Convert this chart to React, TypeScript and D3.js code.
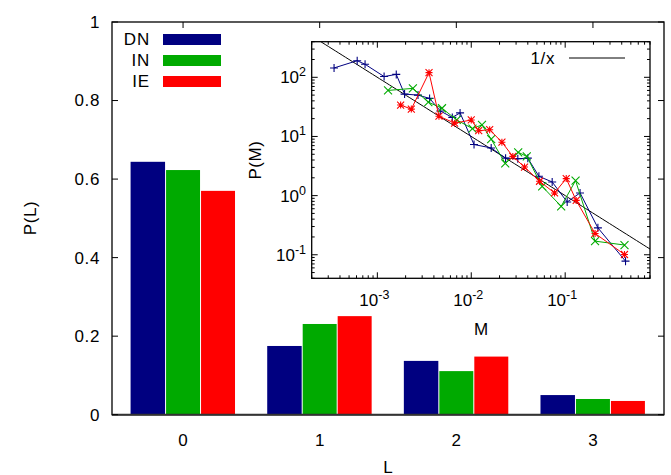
import React from "react";
import * as d3 from "d3";

const categories = [0, 1, 2, 3];
const seriesNames = ["DN", "IN", "IE"];
const seriesColors = ["#000080", "#00aa00", "#ff0000"];
const dnBars = [0.644, 0.175, 0.137, 0.05];
const inBars = [0.623, 0.231, 0.111, 0.04];
const ieBars = [0.57, 0.251, 0.148, 0.035];
const yTicks = [0, 0.2, 0.4, 0.6, 0.8, 1];
const yTickLabels = ["0", "0.2", "0.4", "0.6", "0.8", "1"];

const dnM = [3.46e-4, 6.1e-4, 7.4e-4, 1.18e-3, 1.59e-3, 1.95e-3, 2.71e-3, 3.6e-3, 4.68e-3, 6.28e-3, 7.6e-3, 0.0107, 0.0163, 0.0232, 0.0313, 0.04, 0.0525, 0.0727, 0.105, 0.144, 0.223, 0.439];
const dnP = [144, 191, 166, 103, 112, 52, 50, 44, 27, 21, 25, 7.3, 6.4, 4.3, 4.2, 4.3, 2.12, 1.7, 0.78, 1.11, 0.285, 0.078];
const inM = [1.3e-3, 2.39e-3, 3.49e-3, 4.88e-3, 7.0e-3, 0.0103, 0.013, 0.0163, 0.023, 0.0316, 0.039, 0.0569, 0.0906, 0.129, 0.208, 0.428];
const inP = [60, 65, 38, 30, 19, 13.6, 15.7, 9.0, 3.5, 5.4, 4.6, 1.43, 0.66, 1.79, 0.17, 0.146];
const ieM = [1.77e-3, 2.3e-3, 3.55e-3, 4.53e-3, 6.65e-3, 0.01, 0.012, 0.0157, 0.0212, 0.0277, 0.0369, 0.0533, 0.077, 0.1026, 0.131, 0.208, 0.428];
const ieP = [34, 29, 120, 22, 16.8, 19, 12.5, 13, 8.0, 4.6, 3.04, 1.75, 1.11, 1.94, 0.83, 0.229, 0.101];
const fitC = 0.1;
const insetXMajor = [-3, -2, -1];
const insetYMajor = [-1, 0, 1, 2];

const FONT = "'Liberation Sans', Arial, Helvetica, sans-serif";

export default function App() {
  const W = 671, H = 475;
  const x = d3.scaleLinear().domain([-0.52, 3.52]).range([112, 664]);
  const y = d3.scaleLinear().domain([0, 1]).range([414.7, 22]);
  const bw = 0.256;
  const barSeries = [dnBars, inBars, ieBars];

  const ix = d3.scaleLog().domain([2e-4, 0.8]).range([311.7, 650]);
  const iy = d3.scaleLog().domain([0.04, 400]).range([278.3, 41.7]);
  const [ix0, ix1] = ix.range();
  const [iy0, iy1] = iy.range();

  const line = d3.line<[number, number]>().x(d => ix(d[0])).y(d => iy(d[1]));
  const pts = (m: number[], p: number[]) => m.map((v, i) => [v, p[i]] as [number, number]);
  const insetSeries = [pts(dnM, dnP), pts(inM, inP), pts(ieM, ieP)];

  const xMinor: number[] = [];
  for (let k = -4; k <= 0; k++) for (let m = 1; m <= 9; m++) {
    const v = m * Math.pow(10, k);
    if (v >= 2e-4 && v <= 0.8) xMinor.push(v);
  }
  const yMinor: number[] = [];
  for (let k = -2; k <= 2; k++) for (let m = 1; m <= 9; m++) {
    const v = m * Math.pow(10, k);
    if (v >= 0.04 && v <= 400) yMinor.push(v);
  }

  const marker = (kind: number, cx: number, cy: number, color: string, key: string) => {
    const s = 4;
    const plus = `M${cx - s},${cy}H${cx + s}M${cx},${cy - s}V${cy + s}`;
    const cross = `M${cx - s},${cy - s}L${cx + s},${cy + s}M${cx - s},${cy + s}L${cx + s},${cy - s}`;
    const s2 = 3.5;
    const star = `M${cx - s2},${cy}H${cx + s2}M${cx},${cy - s2}V${cy + s2}M${cx - s2},${cy - s2}L${cx + s2},${cy + s2}M${cx - s2},${cy + s2}L${cx + s2},${cy - s2}`;
    const d = kind === 0 ? plus : kind === 1 ? cross : star;
    return <path key={key} d={d} stroke={color} strokeWidth={1.1} fill="none" />;
  };

  const fitX = d3.range(0, 101).map(i => Math.pow(10, Math.log10(2e-4) + (i / 100) * (Math.log10(0.8) - Math.log10(2e-4))));

  return (
    <svg width={W} height={H} style={{ position: "absolute", left: 0, top: 0, background: "#fff" }} fontFamily={FONT}>
      <rect x={0} y={0} width={W} height={H} fill="#fff" />
      {/* bars */}
      {barSeries.map((vals, si) =>
        categories.map((c, ci) => {
          const left = x(c + (si - 1.5) * bw);
          const right = x(c + (si - 0.5) * bw);
          return (
            <rect key={`b${si}-${ci}`} x={left + (si > 0 ? 0.5 : 0)} y={y(vals[ci])}
              width={right - left - (si > 0 ? 0.5 : 0) - 0.5} height={y(0) - y(vals[ci])} fill={seriesColors[si]} />
          );
        })
      )}
      {/* main frame */}
      <rect x={x.range()[0]} y={y(1)} width={x.range()[1] - x.range()[0]} height={y(0) - y(1)} fill="none" stroke="#000" strokeWidth={1.3} />
      <line x1={x.range()[0]} x2={x.range()[1]} y1={y(0)} y2={y(0)} stroke="#333" strokeWidth={2} />
      {yTicks.map((t, i) => (
        <g key={`yt${i}`}>
          <line x1={x.range()[0]} x2={x.range()[0] + 6} y1={y(t)} y2={y(t)} stroke="#000" />
          <line x1={x.range()[1]} x2={x.range()[1] - 6} y1={y(t)} y2={y(t)} stroke="#000" />
          <text x={100} y={y(t)} dy="0.35em" textAnchor="end" fontSize={17} letterSpacing={0.6}>{yTickLabels[i]}</text>
        </g>
      ))}
      {categories.map((c, i) => (
        <g key={`xt${i}`}>
          <line x1={x(c)} x2={x(c)} y1={y(1)} y2={y(1) + 6} stroke="#000" />
          <text x={x(c)} y={440} dy="0.35em" textAnchor="middle" fontSize={17}>{String(c)}</text>
        </g>
      ))}
      <text x={0} y={0} transform={`translate(30,218) rotate(-90)`} textAnchor="middle" dy="0.35em" fontSize={17} letterSpacing={0.6}>P(L)</text>
      <text x={x(1.5)} y={467} dy="0.35em" textAnchor="middle" fontSize={17}>L</text>
      {/* legend */}
      {seriesNames.map((n, i) => (
        <g key={`lg${i}`}>
          <text x={150} y={39 + i * 21} dy="0.35em" textAnchor="end" fontSize={17} letterSpacing={0.8}>{n}</text>
          <rect x={163} y={34 + i * 21} width={58} height={11} fill={seriesColors[i]} />
        </g>
      ))}

      {/* inset */}
      <defs>
        <clipPath id="insetClip">
          <rect x={ix0} y={iy1} width={ix1 - ix0} height={iy0 - iy1} />
        </clipPath>
      </defs>
      <rect x={ix0} y={iy1} width={ix1 - ix0} height={iy0 - iy1} fill="#fff" />
      <g clipPath="url(#insetClip)">
        <path d={line(fitX.map(v => [v, fitC / v] as [number, number])) || ""} stroke="#000" strokeWidth={1} fill="none" />
        {insetSeries.map((s, si) => (
          <g key={`is${si}`}>
            <path d={line(s) || ""} stroke={seriesColors[si]} strokeWidth={1} fill="none" />
            {s.map((p, pi) => marker(si, ix(p[0]), iy(p[1]), seriesColors[si], `m${si}-${pi}`))}
          </g>
        ))}
      </g>
      <rect x={ix0} y={iy1} width={ix1 - ix0} height={iy0 - iy1} fill="none" stroke="#000" strokeWidth={1.3} />
      {xMinor.map((v, i) => {
        const major = insetXMajor.some(k => Math.abs(Math.log10(v) - k) < 1e-6);
        const len = major ? 6 : 3;
        return (
          <g key={`ixm${i}`}>
            <line x1={ix(v)} x2={ix(v)} y1={iy0} y2={iy0 - len} stroke="#000" />
            <line x1={ix(v)} x2={ix(v)} y1={iy1} y2={iy1 + len} stroke="#000" />
          </g>
        );
      })}
      {yMinor.map((v, i) => {
        const major = insetYMajor.some(k => Math.abs(Math.log10(v) - k) < 1e-6);
        const len = major ? 6 : 3;
        return (
          <g key={`iym${i}`}>
            <line x1={ix0} x2={ix0 + len} y1={iy(v)} y2={iy(v)} stroke="#000" />
            <line x1={ix1} x2={ix1 - len} y1={iy(v)} y2={iy(v)} stroke="#000" />
          </g>
        );
      })}
      {insetXMajor.map(k => (
        <text key={`ixl${k}`} x={ix(Math.pow(10, k)) - 3} y={300} dy="0.35em" textAnchor="middle" fontSize={17}>
          10<tspan dy="-7" fontSize={12.5}>{String(k)}</tspan>
        </text>
      ))}
      {insetYMajor.map(k => (
        <text key={`iyl${k}`} x={306} y={iy(Math.pow(10, k))} dy="0.35em" textAnchor="end" fontSize={17}>
          10<tspan dy="-7" fontSize={12.5}>{String(k)}</tspan>
        </text>
      ))}
      <text x={0} y={0} transform={`translate(255,160) rotate(-90)`} textAnchor="middle" dy="0.35em" fontSize={17} letterSpacing={0.6}>P(M)</text>
      <text x={481} y={329} dy="0.35em" textAnchor="middle" fontSize={17}>M</text>
      <text x={555} y={58} dy="0.35em" textAnchor="end" fontSize={17} letterSpacing={0.6}>1/x</text>
      <line x1={569} x2={625} y1={58} y2={58} stroke="#000" strokeWidth={1} />
    </svg>
  );
}
